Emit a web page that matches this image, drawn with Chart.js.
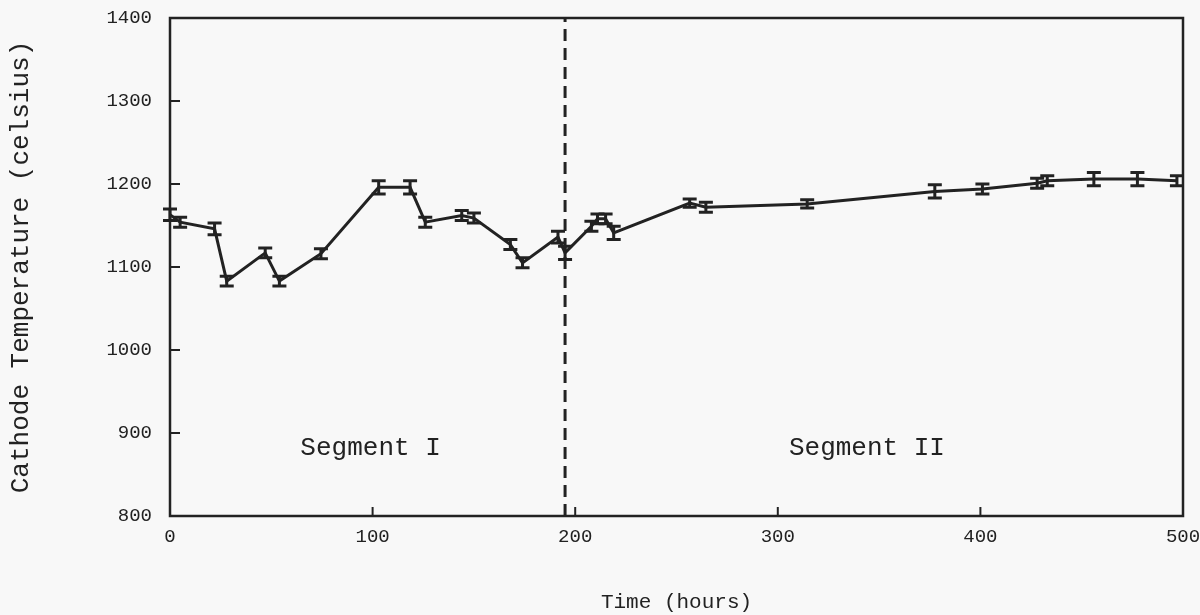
<!DOCTYPE html>
<html>
<head>
<meta charset="utf-8">
<script src="https://cdn.jsdelivr.net/npm/chart.js@4/dist/chart.umd.min.js"></script>
<style>
  html, body { margin: 0; padding: 0; background: #f8f8f8; }
  #wrap { width: 1200px; height: 615px; }
</style>
</head>
<body>
<div id="wrap"><canvas id="myChart"></canvas></div>
<script>
// values
const hours = [0, 5, 22, 28, 47, 54, 74.5, 103, 118.5, 126, 144, 150, 168, 174, 191.5, 195,
               208, 211, 215, 219, 256.5, 264.5, 314.5, 377.5, 401, 428, 433, 456, 477.5, 497];
const temps = [1163, 1154, 1146, 1083, 1117, 1083, 1116, 1196, 1196, 1154, 1162, 1159, 1127, 1105, 1136, 1117,
               1149, 1158, 1158, 1141, 1177, 1172, 1176, 1191, 1194, 1201, 1204, 1206, 1206, 1204];
const errs  = [7, 6, 7, 6, 6, 6, 6, 8, 8, 6, 6, 6, 6, 6, 7, 8,
               6, 6, 6, 8, 5, 6, 5, 8, 6, 6, 6, 8, 8, 6];

const segmentSplit = 195;   // hours, dashed line
const segmentLabels = ['Segment I', 'Segment II'];
const segmentLabelX = [99, 344];
const segmentLabelY = 882;

const xTicks = [0, 100, 200, 300, 400, 500];
const yTicks = [800, 900, 1000, 1100, 1200, 1300, 1400];

const ink = '#222';
const mono = "'Liberation Mono', 'DejaVu Sans Mono', monospace";

// error bars, inward ticks, frame and segment labels
const extras = {
    id: 'extras',
    afterDatasetsDraw(chart) {
        const ctx = chart.ctx;
        const xs = chart.scales.x, ys = chart.scales.y;
        const area = chart.chartArea;
        ctx.save();
        ctx.strokeStyle = ink;
        ctx.lineWidth = 3;
        ctx.lineCap = 'butt';
        hours.forEach((h, i) => {
            const px = xs.getPixelForValue(h);
            const top = ys.getPixelForValue(temps[i] + errs[i]);
            const bot = ys.getPixelForValue(temps[i] - errs[i]);
            ctx.beginPath();
            ctx.moveTo(px, top); ctx.lineTo(px, bot);
            ctx.moveTo(px - 7, top); ctx.lineTo(px + 7, top);
            ctx.moveTo(px - 7, bot); ctx.lineTo(px + 7, bot);
            ctx.stroke();
        });

        // frame
        ctx.lineWidth = 2.5;
        ctx.strokeRect(area.left, area.top, area.right - area.left, area.bottom - area.top);

        // inward ticks
        ctx.lineWidth = 2;
        xTicks.forEach(v => {
            const px = xs.getPixelForValue(v);
            ctx.beginPath();
            ctx.moveTo(px, area.bottom); ctx.lineTo(px, area.bottom - 9);
            ctx.stroke();
        });
        yTicks.forEach(v => {
            const py = ys.getPixelForValue(v);
            ctx.beginPath();
            ctx.moveTo(area.left, py); ctx.lineTo(area.left + 10, py);
            ctx.stroke();
        });

        ctx.fillStyle = ink;
        ctx.font = '26px ' + mono;
        ctx.textAlign = 'center';
        ctx.textBaseline = 'middle';
        segmentLabels.forEach((t, i) => {
            ctx.fillText(t, xs.getPixelForValue(segmentLabelX[i]), ys.getPixelForValue(segmentLabelY));
        });
        ctx.restore();
    }
};

const ctx = document.getElementById('myChart');
new Chart(ctx, {
    type: 'line',
    data: {
        datasets: [
            {
                data: hours.map((h, i) => ({ x: h, y: temps[i] })),
                borderColor: ink,
                borderWidth: 3,
                pointRadius: 0,
                tension: 0,
                fill: false
            },
            {
                data: [{ x: segmentSplit, y: 800 }, { x: segmentSplit, y: 1400 }],
                borderColor: ink,
                borderWidth: 3,
                borderDash: [12, 7],
                pointRadius: 0,
                fill: false
            }
        ]
    },
    options: {
        responsive: true,
        maintainAspectRatio: false,
        animation: false,
        layout: { padding: { left: 2, right: 17, top: 18, bottom: 0 } },
        plugins: { legend: { display: false }, tooltip: { enabled: false } },
        scales: {
            x: {
                type: 'linear',
                min: 0, max: 500,
                afterBuildTicks: s => { s.ticks = xTicks.map(v => ({ value: v })); },
                afterFit: s => { s.height = 99; s.paddingLeft = 0; s.paddingRight = 0; },
                grid: { display: false, drawTicks: false },
                border: { display: false },
                ticks: { color: ink, padding: 10, font: { family: mono, size: 19 }, callback: v => String(v) },
                title: { display: true, text: 'Time (hours)', color: ink, padding: { top: 4, bottom: 0 },
                         font: { family: mono, size: 21 } }
            },
            y: {
                min: 800, max: 1400,
                afterBuildTicks: s => { s.ticks = yTicks.map(v => ({ value: v })); },
                afterFit: s => { s.width = 168; s.paddingTop = 0; s.paddingBottom = 0; },
                grid: { display: false, drawTicks: false },
                border: { display: false },
                ticks: { color: ink, padding: 18, font: { family: mono, size: 19 }, callback: v => String(v) },
                title: { display: true, text: 'Cathode Temperature (celsius)', color: ink,
                         font: { family: mono, size: 26 } }
            }
        }
    },
    plugins: [extras]
});
</script>
</body>
</html>
